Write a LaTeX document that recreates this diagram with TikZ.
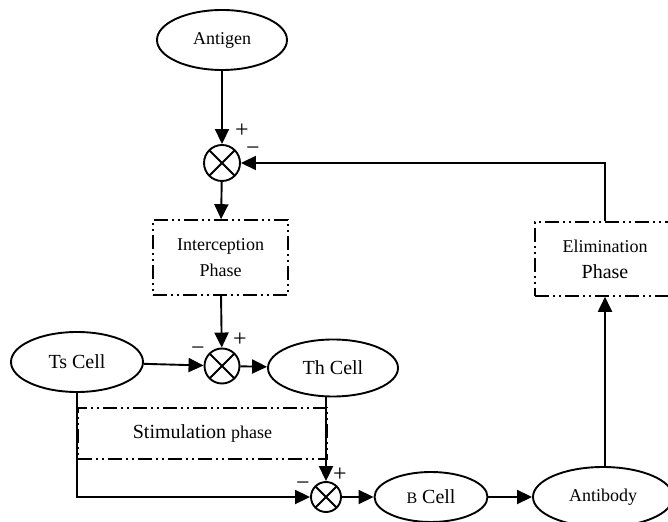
\documentclass[tikz,border=0pt]{standalone}
\usepackage{fontspec}
\setmainfont{Liberation Serif}
\usetikzlibrary{arrows.meta, shapes.geometric}

\begin{document}
\begin{tikzpicture}[x=0.5pt, y=-0.5pt, line width=0.95pt,
    cell/.style={draw, ellipse, inner sep=0pt, minimum width=65pt, minimum height=30pt,
      font=\fontsize{10}{12}\selectfont},
    sumnode/.style={draw, circle, inner sep=0pt, minimum size=18pt,
      path picture={\draw (path picture bounding box.north west) -- (path picture bounding box.south east)
        (path picture bounding box.north east) -- (path picture bounding box.south west);}},
    phasebox/.style={draw, line width=0.8pt, align=center, inner sep=0pt,
      dash pattern=on 7pt off 2pt on 1pt off 2pt on 1pt off 2pt},
    sign/.style={font=\fontsize{12}{14}\selectfont, inner sep=0pt},
    flow/.style={-{Triangle[length=7.5pt, width=7pt]}}]
    \useasboundingbox (0,0) rectangle (668,522);

    % Cells
    \node[cell, font=\fontsize{9}{11}\selectfont] (antigen) at (222,40) {Antigen};
    \node[cell, minimum width=66pt] (ts) at (77,362) {Ts Cell};
    \node[cell, minimum height=28.5pt] (th) at (333,368) {Th Cell};
    \node[cell, minimum width=56.5pt, minimum height=25pt] (bcell) at (431,497)
      {{\fontsize{8}{10}\selectfont B} Cell};
    \node[cell, minimum width=70pt, font=\fontsize{9}{11}\selectfont] (antibody) at (603,497) {Antibody};

    % Summing junctions
    \node[sumnode] (sumA) at (222,163) {};
    \node[sumnode, minimum size=17.5pt] (sumB) at (222,366) {};
    \node[sumnode, minimum size=15pt] (sumC) at (326,497) {};

    % Phases
    \node[phasebox, minimum width=67.5pt, minimum height=37.5pt] (intercept) at (220.5,257.5)
      {\fontsize{9}{11}\selectfont Interception\\[1pt]\fontsize{9}{11}\selectfont Phase};
    \node[phasebox, minimum width=70pt, minimum height=37pt] (elim) at (605,259)
      {\fontsize{9}{11}\selectfont Elimination\\[1pt]\fontsize{10}{12}\selectfont Phase};
    \node[phasebox, minimum width=124.5pt, minimum height=25.5pt] (stim) at (202.5,433.5)
      {\fontsize{10}{12}\selectfont Stimulation {\fontsize{9}{11}\selectfont phase}};

    % Signs
    \node[sign] at (242,131) {+};
    \node[sign] at (253,151) {−};
    \node[sign] at (240,340) {+};
    \node[sign] at (198,351) {−};
    \node[sign] at (340,475) {+};
    \node[sign] at (303,486) {−};

    % Forward path
    \draw[flow] (antigen) -- (sumA);
    \draw[flow] (sumA) -- (intercept);
    \draw[flow] (intercept) -- (sumB);
    \draw[flow] (ts) -- (sumB);
    \draw[flow] (sumB) -- (th);
    \draw[flow] (sumC |- th.south) -- (sumC);
    \draw[flow] (ts.south) |- (sumC);
    \draw[flow] (sumC) -- (bcell);
    \draw[flow] (bcell) -- (antibody);

    % Feedback
    \draw[flow] (antibody.north -| elim.south) -- (elim);
    \draw[flow] (elim) |- (sumA);
\end{tikzpicture}
\end{document}
